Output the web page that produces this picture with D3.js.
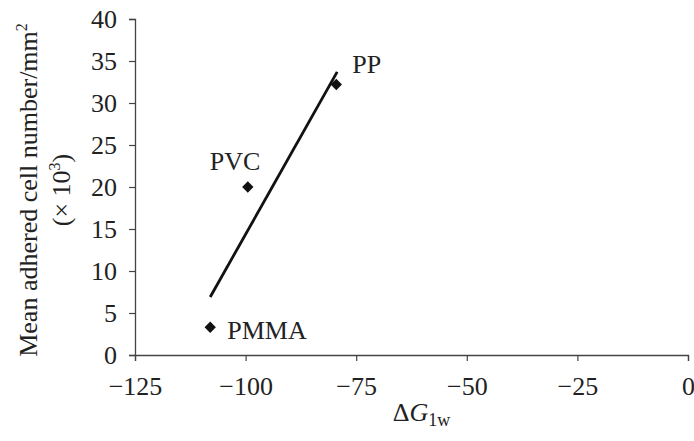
<!DOCTYPE html>
<html>
<head>
<meta charset="utf-8">
<script src="https://cdn.jsdelivr.net/npm/d3@7"></script>
<style>
  body { margin: 0; background: #fff; }
  text { font-family: "Liberation Serif", "Times New Roman", serif; fill: #222; }
</style>
</head>
<body>
<div id="plot"></div>
<script>
// polymer data points
var materials = ["PMMA", "PVC", "PP"];
var deltaG = [-108, -99.5, -79.5];
var cellCount = [3.3, 20, 32.2];

// fitted trend line end points
var fitX = [-108, -79.3];
var fitY = [6.9, 33.7];

var xTicks = [-125, -100, -75, -50, -25, 0];
var yTicks = [0, 5, 10, 15, 20, 25, 30, 35, 40];

var margin = {top: 19, right: 6, bottom: 86, left: 135},
    width = 694 - margin.left - margin.right,
    height = 441 - margin.top - margin.bottom;

var svg = d3.select("#plot")
    .append("svg")
    .attr("width", 694)
    .attr("height", 441)
    .append("g")
    .attr("transform", "translate(" + margin.left + "," + margin.top + ")");

var x = d3.scaleLinear().domain([-125, 0]).range([0, width]);
var y = d3.scaleLinear().domain([0, 40]).range([height, 0]);

// X axis
var xAxis = svg.append("g")
    .attr("transform", "translate(0," + height + ")")
    .call(d3.axisBottom(x).tickValues(xTicks).tickSize(6).tickPadding(16)
        .tickFormat(function(d){ return d < 0 ? "\u2212" + Math.abs(d) : d; }));

// Y axis
var yAxis = svg.append("g")
    .call(d3.axisLeft(y).tickValues(yTicks).tickSize(6).tickPadding(12));

[xAxis, yAxis].forEach(function(a){
    a.select(".domain").attr("stroke", "#444").attr("stroke-width", 1.3);
    a.selectAll(".tick line").attr("stroke", "#444").attr("stroke-width", 1.2);
    a.selectAll(".tick text").style("font-size", "26px")
        .style("font-family", "'Liberation Serif', serif").attr("fill", "#222");
});

// trend line
svg.append("line")
    .attr("x1", x(fitX[0])).attr("y1", y(fitY[0]))
    .attr("x2", x(fitX[1])).attr("y2", y(fitY[1]))
    .attr("stroke", "#111")
    .attr("stroke-width", 2.8);

// points
var pts = materials.map(function(m, i){ return {name: m, x: deltaG[i], y: cellCount[i]}; });
svg.append("g")
    .selectAll("path")
    .data(pts)
    .enter()
    .append("path")
    .attr("d", d3.symbol().type(d3.symbolSquare).size(64))
    .attr("transform", function(d){ return "translate(" + x(d.x) + "," + y(d.y) + ") rotate(45)"; })
    .attr("fill", "#111");

// point labels
var labelOffset = {PMMA: [17, 12], PVC: [-38, -17], PP: [16, -12]};
svg.append("g")
    .selectAll("text")
    .data(pts)
    .enter()
    .append("text")
    .attr("x", function(d){ return x(d.x) + labelOffset[d.name][0]; })
    .attr("y", function(d){ return y(d.y) + labelOffset[d.name][1]; })
    .style("font-size", "26px")
    .text(function(d){ return d.name; });

// axis titles
var xt = svg.append("text")
    .attr("x", x(-62.5) + 10)
    .attr("y", height + 66)
    .attr("text-anchor", "middle")
    .style("font-size", "26px");
xt.append("tspan").text("\u0394");
xt.append("tspan").style("font-style", "italic").text("G");
xt.append("tspan").attr("dy", 5).style("font-size", "18px").text("1w");

var yt = svg.append("text")
    .attr("transform", "translate(" + (-98) + "," + (height / 2 + 3) + ") rotate(-90)")
    .attr("text-anchor", "middle")
    .style("font-size", "26px");
yt.append("tspan").text("Mean adhered cell number/mm");
yt.append("tspan").attr("dy", -10).style("font-size", "16px").text("2");

var yt2 = svg.append("text")
    .attr("transform", "translate(" + (-65) + "," + (height / 2 + 3) + ") rotate(-90)")
    .attr("text-anchor", "middle")
    .style("font-size", "26px");
yt2.append("tspan").text("(\u00d7 10");
yt2.append("tspan").attr("dy", -10).style("font-size", "16px").text("3");
yt2.append("tspan").attr("dy", 10).text(")");
</script>
</body>
</html>
